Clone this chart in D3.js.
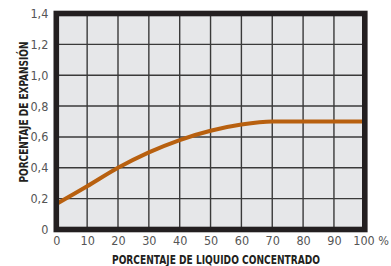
<!DOCTYPE html>
<html>
<head>
<meta charset="utf-8">
<script src="https://cdn.jsdelivr.net/npm/d3@7"></script>
<style>
  body { margin: 0; background: #fff; }
  svg { display: block; }
  .axis text { font-family: 'Liberation Sans Narrow', 'DejaVu Sans Condensed', sans-serif; font-stretch: condensed; }
</style>
</head>
<body>
<div id="chart"></div>
<script>
// data
var liquido = [0, 10, 20, 30, 40, 50, 60, 70, 80, 90, 100]
var expansion = [0.165, 0.28, 0.40, 0.50, 0.58, 0.64, 0.68, 0.70, 0.70, 0.70, 0.70]
var xTicks = [0, 10, 20, 30, 40, 50, 60, 70, 80, 90, 100]
var yTicks = [0, 0.2, 0.4, 0.6, 0.8, 1.0, 1.2, 1.4]
var xTitle = 'PORCENTAJE DE LIQUIDO CONCENTRADO'
var yTitle = 'PORCENTAJE DE EXPANSIÓN'

var margin = { top: 13.5, left: 56.3, right: 26.2, bottom: 36.5 }
var width = 391 - margin.left - margin.right
var height = 266 - margin.top - margin.bottom
var font = "'Liberation Sans Narrow', 'DejaVu Sans Condensed', sans-serif"

var svg = d3
  .select('#chart')
  .append('svg')
  .attr('width', 391)
  .attr('height', 266)
  .append('g')
  .attr('transform', 'translate(' + margin.left + ',' + margin.top + ')')

var xPositionScale = d3.scaleLinear().domain([0, 100]).range([0, width])
var yPositionScale = d3.scaleLinear().domain([0, 1.4]).range([height, 0])

var points = liquido.map(function(d, i) {
  return { x: d, y: expansion[i] }
})

// plot background
svg
  .append('rect')
  .attr('width', width)
  .attr('height', height)
  .attr('fill', '#e6e7e9')

// grid
svg
  .selectAll('.vgrid')
  .data(xTicks.slice(1, -1))
  .enter()
  .append('line')
  .attr('x1', d => xPositionScale(d))
  .attr('x2', d => xPositionScale(d))
  .attr('y1', 0)
  .attr('y2', height)
  .attr('stroke', '#3a3a3a')
  .attr('stroke-width', 1.4)

svg
  .selectAll('.hgrid')
  .data(yTicks.slice(1, -1))
  .enter()
  .append('line')
  .attr('x1', 0)
  .attr('x2', width)
  .attr('y1', d => yPositionScale(d))
  .attr('y2', d => yPositionScale(d))
  .attr('stroke', '#3a3a3a')
  .attr('stroke-width', 1.4)

// curve
var line = d3
  .line()
  .x(d => xPositionScale(d.x))
  .y(d => yPositionScale(d.y))
  .curve(d3.curveMonotoneX)

svg
  .append('path')
  .datum(points)
  .attr('d', line)
  .attr('fill', 'none')
  .attr('stroke', '#b8600f')
  .attr('stroke-width', 4)

// frame
svg
  .append('rect')
  .attr('width', width)
  .attr('height', height)
  .attr('fill', 'none')
  .attr('stroke', '#231f20')
  .attr('stroke-width', 5.6)

// axes
var xAxis = d3
  .axisBottom(xPositionScale)
  .tickValues(xTicks)
  .tickSize(0)
  .tickPadding(7)
  .tickFormat(d => (d === 100 ? '100 %' : d))
var gx = svg
  .append('g')
  .attr('class', 'axis x-axis')
  .attr('transform', 'translate(0,' + height + ')')
  .call(xAxis)
gx.select('.domain').remove()
gx.selectAll('text')
  .attr('font-size', 12.5)
  .attr('fill', '#555')
  .attr('text-anchor', d => (d === 100 ? 'start' : 'middle'))
  .attr('dx', d => (d === 100 ? -12 : 0))

var yAxis = d3
  .axisLeft(yPositionScale)
  .tickValues(yTicks)
  .tickSize(0)
  .tickPadding(8)
  .tickFormat(d => (d === 0 ? '0' : d.toFixed(1).replace('.', ',')))
var gy = svg.append('g').attr('class', 'axis y-axis').call(yAxis)
gy.select('.domain').remove()
gy.selectAll('text')
  .attr('font-size', 12.5)
  .attr('fill', '#555')

// titles
svg
  .append('text')
  .attr('x', 216 - margin.left)
  .attr('y', 263.5 - margin.top)
  .attr('text-anchor', 'middle')
  .attr('font-family', font)
  .attr('font-weight', 'bold')
  .attr('font-size', 13)
  .attr('textLength', 208)
  .attr('lengthAdjust', 'spacingAndGlyphs')
  .attr('fill', '#231f20')
  .text(xTitle)

svg
  .append('text')
  .attr('transform', 'translate(' + (27.5 - margin.left) + ',' + (112 - margin.top) + ') rotate(-90)')
  .attr('text-anchor', 'middle')
  .attr('font-family', font)
  .attr('font-weight', 'bold')
  .attr('font-size', 13)
  .attr('textLength', 141)
  .attr('lengthAdjust', 'spacingAndGlyphs')
  .attr('fill', '#231f20')
  .text(yTitle)
</script>
</body>
</html>
